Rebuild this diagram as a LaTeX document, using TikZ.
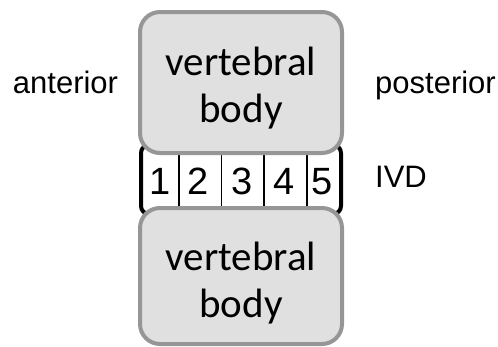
\documentclass[tikz,border=0pt]{standalone}
\usepackage{fontspec}
\setmainfont{Liberation Sans}
\newfontfamily\bodyfont{Carlito}
\definecolor{boxfill}{RGB}{224,224,224}
\definecolor{boxline}{RGB}{150,150,150}
\tikzset{
  vbox/.style={draw=boxline, fill=boxfill, line width=4pt, rounded corners=20pt,
    minimum width=202pt, inner sep=0pt},
  vtext/.style={font=\bodyfont\fontsize{41}{47}\selectfont, align=center, inner sep=0pt},
  lbl/.style={font=\fontsize{31}{37}\selectfont, inner sep=0pt},
  digit/.style={font=\fontsize{38}{44}\selectfont, inner sep=0pt, anchor=base},
  brack/.style={line width=4pt, rounded corners=8pt},
  divider/.style={line width=1.5pt}
}
\begin{document}
\begin{tikzpicture}[x=1pt,y=-1pt]
\useasboundingbox (0,0) rectangle (498,346);
% IVD strip
\node[fill=white, minimum width=200pt, minimum height=62pt, inner sep=0pt] (ivd) at (241,180) {};
\foreach \x in {179,221.5,264,307} \draw[divider] (\x,150) -- (\x,210);
\node[digit] (d1) at (160,194.3) {1};
\node[digit] (d2) at (198.5,194.3) {2};
\node[digit] (d3) at (242,194.3) {3};
\node[digit] (d4) at (284.5,194.3) {4};
\node[digit] (d5) at (322,194.3) {5};
% brackets
\draw[brack] (151,145) -- (141,145) -- (141,214) -- (151,214);
\draw[brack] (331,145) -- (341,145) -- (341,214) -- (331,214);
% vertebral bodies
\node[vbox, minimum height=141pt] (vb1) at (241,82.5) {};
\node[vtext] (t1) at (241,88.5) {vertebral\\body};
\node[vbox, minimum height=136pt] (vb2) at (241,276) {};
\node[vtext] (t2) at (241,283) {vertebral\\body};
% labels
\node[lbl, anchor=base] (ant) at (65.5,93) {anterior};
\node[lbl, anchor=base west] (post) at (375,93) {posterior};
\node[lbl, anchor=base west] (ivdl) at (375,187) {IVD};
\end{tikzpicture}
\end{document}
